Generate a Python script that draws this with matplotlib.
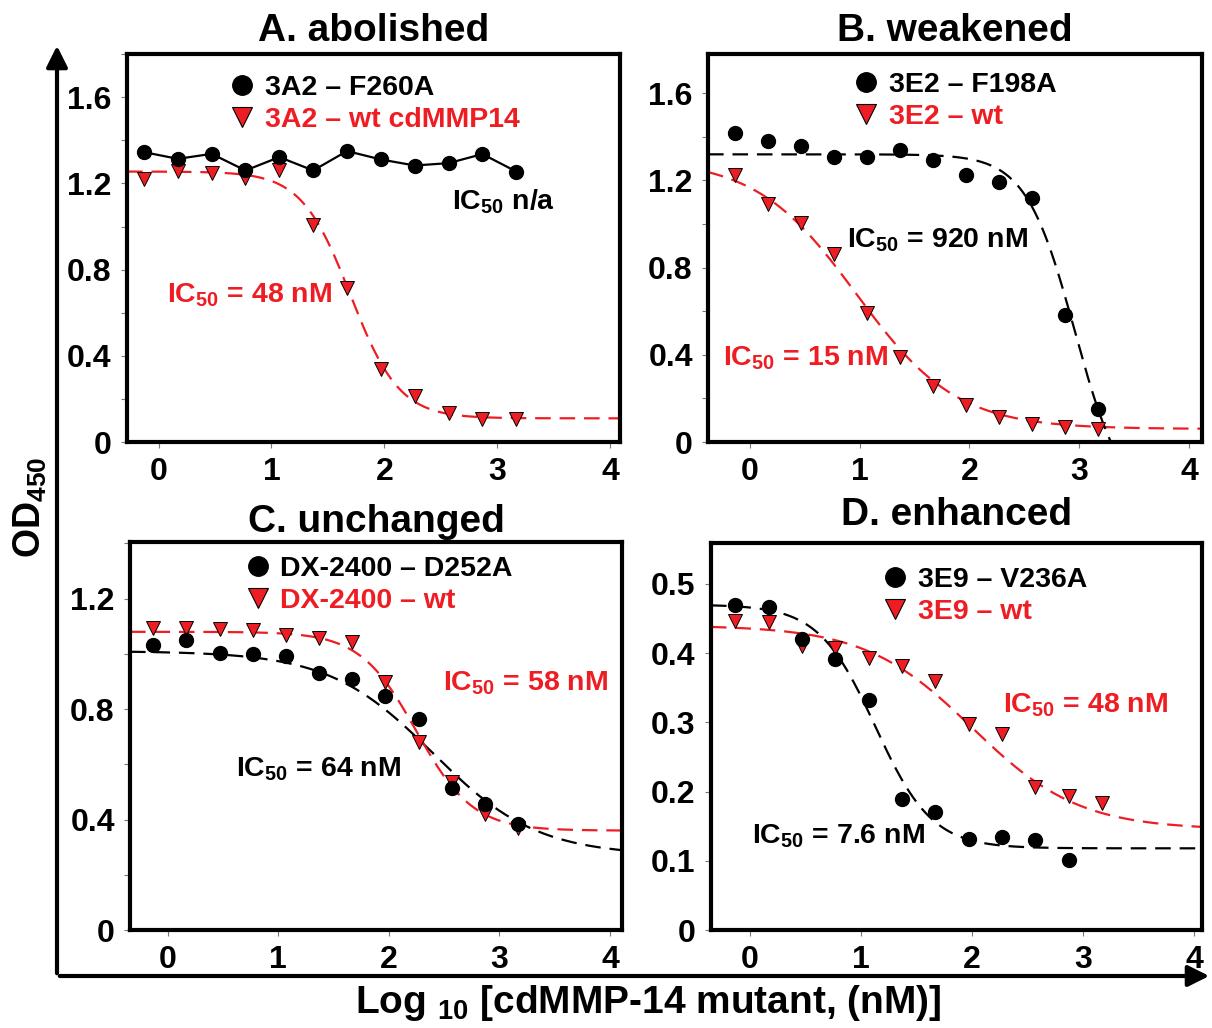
import numpy as np
import matplotlib
matplotlib.use('Agg')
from matplotlib import pyplot as plt
from matplotlib.lines import Line2D
from matplotlib.patches import FancyArrowPatch
from matplotlib.ticker import MultipleLocator

plt.rcParams['font.family'] = ['Liberation Sans', 'DejaVu Sans']
plt.rcParams['font.weight'] = 'bold'
plt.rcParams['mathtext.fontset'] = 'custom'
plt.rcParams['mathtext.rm'] = 'Liberation Sans:bold'
plt.rcParams['mathtext.it'] = 'Liberation Sans:bold'
plt.rcParams['mathtext.bf'] = 'Liberation Sans:bold'

RED = '#ee1d23'

# log10 concentration (nM) of the dilution series
log_conc = [-0.13, 0.17, 0.47, 0.77, 1.07, 1.37, 1.67, 1.97, 2.27, 2.57, 2.87, 3.17]

# A. abolished
a_mut = [1.345, 1.314, 1.337, 1.260, 1.322, 1.260, 1.350, 1.311, 1.283, 1.294, 1.336, 1.255]
a_wt = [1.221, 1.257, 1.249, 1.224, 1.260, 1.005, 0.714, 0.337, 0.212, 0.134, 0.105, 0.105]
# B. weakened
b_mut = [1.418, 1.379, 1.359, 1.310, 1.307, 1.338, 1.292, 1.226, 1.195, 1.119, 0.585, 0.153]
b_wt = [1.226, 1.093, 1.007, 0.863, 0.590, 0.388, 0.256, 0.169, 0.115, 0.081, 0.069, 0.061]
# C. unchanged
c_mut = [1.031, 1.050, 1.004, 0.998, 0.994, 0.931, 0.910, 0.846, 0.766, 0.516, 0.456, 0.384]
c_wt = [1.094, 1.094, 1.090, 1.085, 1.069, 1.056, 1.044, 0.900, 0.681, 0.535, 0.419, 0.371]
# D. enhanced (mutant has 11 points)
d_mut = [0.469, 0.466, 0.420, 0.391, 0.332, 0.189, 0.170, 0.131, 0.134, 0.130, 0.101]
d_wt = [0.447, 0.445, 0.410, 0.407, 0.393, 0.382, 0.359, 0.297, 0.283, 0.207, 0.194, 0.184]

# 4PL fit parameters: top, bottom, logIC50 (curve midpoint), hill
a_wt_fit = [1.255, 0.11, 1.70, 2.0]
b_mut_fit = [1.32, -0.30, 2.96, 1.95]
b_wt_fit = [1.30, 0.06, 0.97, 0.95]
c_mut_fit = [1.01, 0.27, 2.40, 0.92]
c_wt_fit = [1.08, 0.36, 2.25, 1.70]
d_mut_fit = [0.47, 0.118, 1.13, 1.70]
d_wt_fit = [0.44, 0.145, 2.00, 0.90]

titles = ['A. abolished', 'B. weakened', 'C. unchanged', 'D. enhanced']
mut_labels = ['3A2 – F260A', '3E2 – F198A', 'DX-2400 – D252A', '3E9 – V236A']
wt_labels = ['3A2 – wt cdMMP14', '3E2 – wt', 'DX-2400 – wt', '3E9 – wt']


def fourpl(x, p):
    top, bottom, c, h = p
    return bottom + (top - bottom) / (1 + 10 ** ((x - c) * h))


fig = plt.figure(figsize=(12.12, 10.28), dpi=100)
ax_a = fig.add_axes([0.1048, 0.570, 0.4068, 0.3774])
ax_b = fig.add_axes([0.5842, 0.570, 0.4076, 0.3774])
ax_c = fig.add_axes([0.1073, 0.0953, 0.4060, 0.3774])
ax_d = fig.add_axes([0.5866, 0.0953, 0.4050, 0.3765])
axes = [ax_a, ax_b, ax_c, ax_d]

xlims = [(-0.28, 4.09), (-0.38, 4.12), (-0.34, 4.11), (-0.35, 4.07)]
ylims = [(0, 1.80), (0, 1.78), (0, 1.405), (0, 0.559)]
yticks = [[0, 0.4, 0.8, 1.2, 1.6], [0, 0.4, 0.8, 1.2, 1.6], [0, 0.4, 0.8, 1.2], [0, 0.1, 0.2, 0.3, 0.4, 0.5]]
ylabels = [['0', '0.4', '0.8', '1.2', '1.6'], ['0', '0.4', '0.8', '1.2', '1.6'],
           ['0', '0.4', '0.8', '1.2'], ['0', '0.1', '0.2', '0.3', '0.4', '0.5']]
minors = [0.2, 0.2, 0.2, None]
title_y = [1.06, 1.06, 1.052, 1.072]
legend_pos = [(0.210, 0.946), (0.297, 0.955), (0.236, 0.964), (0.352, 0.938)]

for i, ax in enumerate(axes):
    ax.set_xlim(*xlims[i])
    ax.set_ylim(*ylims[i])
    ax.set_xticks([0, 1, 2, 3, 4])
    ax.set_xticklabels(['0', '1', '2', '3', '4'])
    ax.set_yticks(yticks[i])
    ax.set_yticklabels(ylabels[i])
    if minors[i]:
        ax.yaxis.set_minor_locator(MultipleLocator(minors[i]))
    ax.tick_params(which='both', direction='out', length=4, width=0.8, color='#777777',
                   labelsize=23, pad=7)
    for lab in ax.get_xticklabels() + ax.get_yticklabels():
        lab.set_fontweight('bold')
    for s in ax.spines.values():
        s.set_linewidth(3)
    ax.text(0.5, title_y[i], titles[i], transform=ax.transAxes, ha='center', va='center',
            fontsize=28, fontweight='bold')
    handles = [Line2D([], [], marker='o', color='black', linestyle='none', markersize=14),
               Line2D([], [], marker='v', markerfacecolor=RED, markeredgecolor='black',
                      markeredgewidth=0.8, linestyle='none', markersize=14)]
    leg = ax.legend(handles, [mut_labels[i], wt_labels[i]], loc='upper left',
                    bbox_to_anchor=legend_pos[i], frameon=False,
                    handlelength=0.8, handletextpad=0.4, labelspacing=0.21,
                    borderaxespad=0, borderpad=0,
                    prop={'weight': 'bold', 'size': 20.5})
    leg.get_texts()[1].set_color(RED)

mk = dict(markersize=10, linestyle='none')
tri = dict(marker='v', markerfacecolor=RED, markeredgecolor='black', markeredgewidth=0.7,
           markersize=10, linestyle='none')
dash = (7, 4)
fs = 20.5

# A
xa = np.linspace(*xlims[0], 300)
ax_a.plot(xa, fourpl(xa, a_wt_fit), color=RED, lw=1.6, dashes=dash)
ax_a.plot(log_conc, a_wt, **tri)
ax_a.plot(log_conc, a_mut, color='black', lw=1.6, marker='o', markersize=10)
ax_a.text(2.6, 1.115, 'IC$_{50}$ n/a', fontsize=fs, fontweight='bold', va='center')
ax_a.text(0.07, 0.68, 'IC$_{50}$ = 48 nM', fontsize=fs, fontweight='bold', va='center', color=RED)

# B
xb = np.linspace(*xlims[1], 300)
ax_b.plot(xb, fourpl(xb, b_wt_fit), color=RED, lw=1.6, dashes=dash)
ax_b.plot(xb, fourpl(xb, b_mut_fit), color='black', lw=1.6, dashes=dash)
ax_b.plot(log_conc, b_wt, **tri)
ax_b.plot(log_conc, b_mut, color='black', marker='o', **mk)
ax_b.text(0.89, 0.927, 'IC$_{50}$ = 920 nM', fontsize=fs, fontweight='bold', va='center')
ax_b.text(-0.24, 0.383, 'IC$_{50}$ = 15 nM', fontsize=fs, fontweight='bold', va='center', color=RED)

# C
xc = np.linspace(*xlims[2], 300)
ax_c.plot(xc, fourpl(xc, c_mut_fit), color='black', lw=1.6, dashes=dash)
ax_c.plot(xc, fourpl(xc, c_wt_fit), color=RED, lw=1.6, dashes=dash)
ax_c.plot(log_conc, c_wt, **tri)
ax_c.plot(log_conc, c_mut, color='black', marker='o', **mk)
ax_c.text(2.49, 0.894, 'IC$_{50}$ = 58 nM', fontsize=fs, fontweight='bold', va='center', color=RED)
ax_c.text(0.62, 0.581, 'IC$_{50}$ = 64 nM', fontsize=fs, fontweight='bold', va='center')

# D
xd = np.linspace(*xlims[3], 300)
ax_d.plot(xd, fourpl(xd, d_mut_fit), color='black', lw=1.6, dashes=dash)
ax_d.plot(xd, fourpl(xd, d_wt_fit), color=RED, lw=1.6, dashes=dash)
ax_d.plot(log_conc, d_wt, **tri)
ax_d.plot(log_conc[:len(d_mut)], d_mut, color='black', marker='o', **mk)
ax_d.text(2.28, 0.324, 'IC$_{50}$ = 48 nM', fontsize=fs, fontweight='bold', va='center', color=RED)
ax_d.text(0.02, 0.135, 'IC$_{50}$ = 7.6 nM', fontsize=fs, fontweight='bold', va='center')

# outer frame arrows
x0, y0 = 57 / 1212, 1 - 976 / 1028
fig.add_artist(FancyArrowPatch((x0, y0), (x0, 1 - 43 / 1028), transform=fig.transFigure,
                               arrowstyle='-|>', mutation_scale=32, lw=3, color='black'))
fig.add_artist(FancyArrowPatch((x0, y0), (1.0, y0), transform=fig.transFigure,
                               arrowstyle='-|>', mutation_scale=32, lw=3, color='black'))

fig.text(0.025, 0.506, 'OD$_{450}$', rotation=90, ha='center', va='center', fontsize=27,
         fontweight='bold')
fig.text(0.535, 0.024, 'Log $_{10}$ [cdMMP-14 mutant, (nM)]', ha='center', va='center',
         fontsize=28, fontweight='bold')

fig.savefig('out.png', dpi=100)
